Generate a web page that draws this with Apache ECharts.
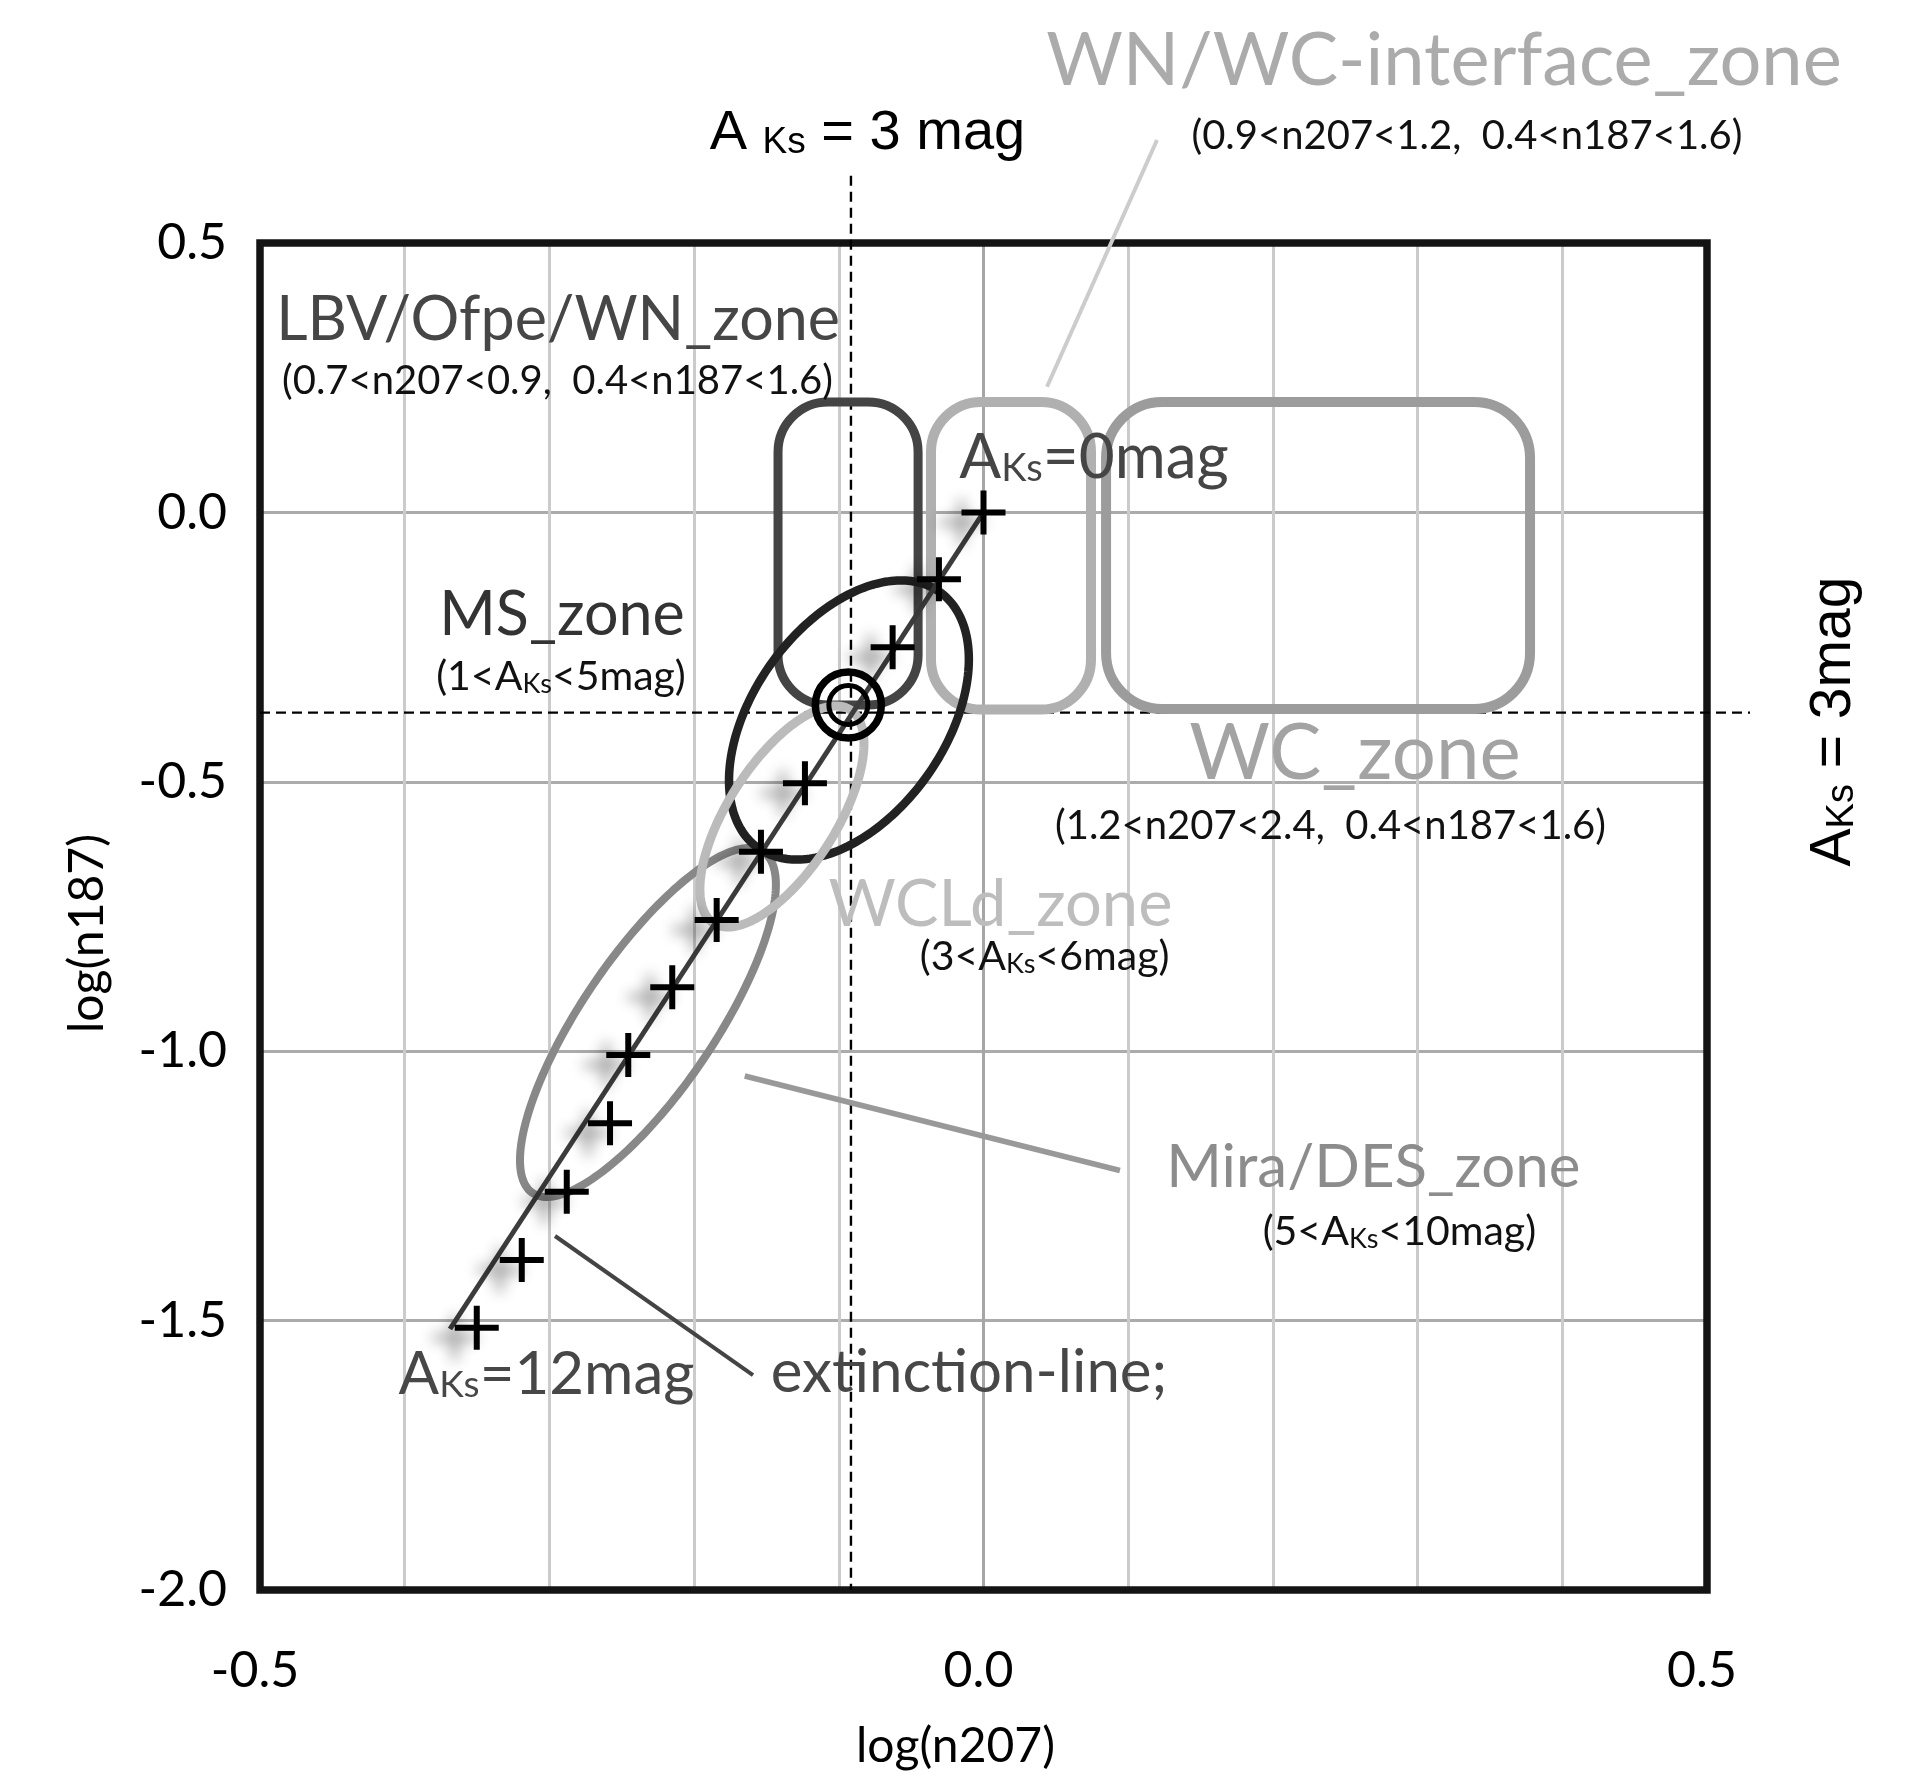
<!DOCTYPE html>
<html><head><meta charset="utf-8">
<script src="https://cdn.jsdelivr.net/npm/echarts/dist/echarts.min.js"></script>
<style>html,body{margin:0;padding:0;background:#fff}#c{width:1906px;height:1778px}</style>
</head><body><div id="c"></div>
<script>
// ---------------- data ----------------
const xRange = [-0.5, 0.5];
const yRange = [-2.0, 0.5];
const xTickLabels = [-0.5, 0.0, 0.5];
const yTickLabels = [0.5, 0.0, -0.5, -1.0, -1.5, -2.0];

// extinction line end points
const extLineX = [0.0, -0.3687];
const extLineY = [0.0, -1.5156];
// A_Ks markers (mag) along the extinction line
const markAKs = [0, 1, 2, 4, 5, 6, 7, 8, 9, 10, 11, 12];
const markX = [0.0, -0.0308, -0.0628, -0.1234, -0.1538, -0.1844, -0.2151, -0.2455, -0.2581, -0.2880, -0.3191, -0.3502];
const markY = [0.0, -0.1243, -0.2504, -0.5028, -0.6297, -0.7565, -0.8814, -1.0071, -1.1338, -1.2607, -1.3875, -1.5132];
// A_Ks = 3 mag point
const ref3 = [-0.0934, -0.3575];
// dashed reference lines (A_Ks = 3 mag)
const dashX = -0.0916;
const dashY = -0.3717;
const dashVExtent = [0.625, -2.0];
const dashHExtent = [-0.5, 0.5297];

// zone boxes [x1, y1, x2, y2]
const lbvBox = [-0.1420, 0.2049, -0.0452, -0.3575];
const wnwcBox = [-0.0363, 0.2049, 0.0743, -0.3660];
const wcBox = [0.0847, 0.2049, 0.3777, -0.3650];
// zone ellipses: [centre, end of major semi-axis, end of minor semi-axis]
const msEllipse = [[-0.0930, -0.3853], [-0.0303, -0.1476], [-0.0388, -0.4883]];
const wcldEllipse = [[-0.1393, -0.5644], [-0.0921, -0.3664], [-0.1079, -0.6182]];
const miraEllipse = [[-0.2319, -0.9467], [-0.1521, -0.6303], [-0.1938, -1.0160]];
// leader lines
const wnwcLeader = [[0.1199, 0.6912], [0.0439, 0.2333]];
const miraLeader = [[-0.1650, -1.0460], [0.0943, -1.2214]];
const extLeader = [[-0.2961, -1.3430], [-0.1593, -1.6010]];

// text annotations
const titleTexts = ['LBV/Ofpe/WN_zone', 'MS_zone', 'A{s|Ks}=0mag', 'WN/WC-interface_zone', 'WC_zone', 'WCLd_zone', 'Mira/DES_zone', 'A{s|Ks}=12mag', 'extinction-line;'];
const titleX = [-0.2940, -0.2913, 0.0764, 0.3182, 0.2567, 0.0117, 0.2694, -0.3020, -0.0100];
const titleY = [0.3649, -0.1823, 0.1110, 0.8470, -0.4386, -0.7194, -1.2071, -1.5904, -1.5880];
const rangeTexts = ['(0.7<n207<0.9,  0.4<n187<1.6)', '(1<A{s|Ks}<5mag)', '(0.9<n207<1.2,  0.4<n187<1.6)', '(1.2<n207<2.4,  0.4<n187<1.6)', '(3<A{s|Ks}<6mag)', '(5<A{s|Ks}<10mag)'];
const rangeX = [-0.2944, -0.2920, 0.3341, 0.2398, 0.0422, 0.2874];
const rangeY = [0.2494, -0.2999, 0.7036, -0.5761, -0.8196, -1.3299];
const topNote = 'A {s|Ks} = 3 mag';
const topNotePos = [-0.0802, 0.7023];
const sideNote = 'A{s|Ks} = 3mag';
const sideNotePos = [0.5878, -0.3881];

// ---------------- styles ----------------
const titleSizes = [61, 61, 62, 74, 78, 65, 60, 60, 60];
const titleColors = ['#464646', '#333333', '#454545', '#ababab', '#a3a3a3', '#bdbdbd', '#8c8c8c', '#474747', '#474747'];
const rangeSizes = [40, 41, 40, 40, 41, 41];
const GILL = 'Lato, "Open Sans", sans-serif';
const ARIAL = '"Liberation Sans", Arial, sans-serif';

function subRich(F, ratio, k, color, family) {
  const f = Math.round(F * ratio);
  const shift = k * (F - f) + 2;
  return { s: { fontSize: f, fontFamily: family, fill: color, padding: [Math.round(2 * shift), 0, 0, 0] } };
}

function textEl(api, text, pos, F, color, family, k, ratio, dy, rot) {
  const p = api.coord(pos);
  return {
    type: 'text', x: p[0], y: p[1] + dy, rotation: rot || 0, z2: 50,
    style: {
      text: text, fontSize: F, fontFamily: family, fill: color,
      align: 'center', verticalAlign: 'middle',
      rich: subRich(F, ratio, k, color, family)
    }
  };
}

function lineEl(api, a, b, color, w, dash) {
  const p = api.coord(a), q = api.coord(b);
  return { type: 'line', shape: { x1: p[0], y1: p[1], x2: q[0], y2: q[1] },
    style: { stroke: color, lineWidth: w, lineDash: dash || null, fill: null } };
}

function boxEl(api, b, color, w, r) {
  const p = api.coord([b[0], b[1]]), q = api.coord([b[2], b[3]]);
  return { type: 'rect', shape: { x: p[0], y: p[1], width: q[0] - p[0], height: q[1] - p[1], r: r },
    style: { fill: 'none', stroke: color, lineWidth: w } };
}

function ellipseEl(api, e, color, w) {
  const c = api.coord(e[0]), m = api.coord(e[1]), n = api.coord(e[2]);
  const ux = m[0] - c[0], uy = m[1] - c[1], vx = n[0] - c[0], vy = n[1] - c[1];
  const pts = [];
  for (let i = 0; i < 240; i++) {
    const t = i / 240 * Math.PI * 2;
    pts.push([c[0] + ux * Math.cos(t) + vx * Math.sin(t), c[1] + uy * Math.cos(t) + vy * Math.sin(t)]);
  }
  return { type: 'polygon', shape: { points: pts }, style: { fill: 'none', stroke: color, lineWidth: w } };
}

function renderZones(params, api) {
  const ch = [];
  // plot frame
  ch.push(boxEl(api, [xRange[0], yRange[1], xRange[1], yRange[0]], '#141414', 7.5, 0));
  ch.push(lineEl(api, [dashX, dashVExtent[0]], [dashX, dashVExtent[1]], '#000', 2.4, [10, 6]));
  ch.push(lineEl(api, [dashHExtent[0], dashY], [dashHExtent[1], dashY], '#000', 2.4, [10, 6]));
  ch.push(boxEl(api, wcBox, '#9c9c9c', 10, 56));
  ch.push(boxEl(api, wnwcBox, '#b0b0b0', 10, 50));
  ch.push(boxEl(api, lbvBox, '#444444', 9, 50));
  ch.push(ellipseEl(api, miraEllipse, '#888888', 8));
  ch.push(ellipseEl(api, msEllipse, '#222222', 8.5));
  ch.push(ellipseEl(api, wcldEllipse, '#bbbbbb', 9));
  ch.push(lineEl(api, wnwcLeader[0], wnwcLeader[1], '#cccccc', 4));
  ch.push(lineEl(api, miraLeader[0], miraLeader[1], '#999999', 5.5));
  ch.push(lineEl(api, extLeader[0], extLeader[1], '#444444', 4));
  return { type: 'group', children: ch };
}

function renderTexts(params, api) {
  const ch = [];
  titleTexts.forEach((t, i) => ch.push(textEl(api, t, [titleX[i], titleY[i]], titleSizes[i], titleColors[i], GILL, 0.387, 0.62, 5)));
  rangeTexts.forEach((t, i) => ch.push(textEl(api, t, [rangeX[i], rangeY[i]], rangeSizes[i], '#111111', GILL, 0.387, 0.66, 3)));
  ch.push(textEl(api, topNote, topNotePos, 56, '#000000', ARIAL, 0.3465, 0.66, 0));
  ch.push(textEl(api, sideNote, sideNotePos, 57, '#000000', ARIAL, 0.3465, 0.66, 0, Math.PI / 2));
  return { type: 'group', children: ch };
}

const xSplitColors = [];
for (let v = xRange[0]; v <= xRange[1] + 1e-9; v += 0.1) xSplitColors.push(Math.abs(v) < 1e-9 ? '#a6a6a6' : '#cbcbcb');

const isTick = (v, list) => list.some(t => Math.abs(t - v) < 1e-6);

const chart = echarts.init(document.getElementById('c'));
chart.setOption({
  animation: false,
  backgroundColor: '#ffffff',
  grid: { left: 260, top: 243, width: 1447, height: 1347, show: false, containLabel: false, outerBoundsMode: 'none' },
  xAxis: {
    type: 'value', min: xRange[0], max: xRange[1], interval: 0.1,
    name: 'log(n207)', nameLocation: 'middle', nameGap: 133,
    nameTextStyle: { fontFamily: GILL, fontSize: 48, color: '#000', padding: [0, 56, 0, 0] },
    axisLine: { show: false }, axisTick: { show: false },
    axisLabel: { margin: 56, fontFamily: GILL, fontSize: 50, color: '#000', padding: [0, 10, 0, 0],
      formatter: v => isTick(v, xTickLabels) ? v.toFixed(1) : '' },
    splitLine: { show: true, lineStyle: { color: xSplitColors, width: 3 } }
  },
  yAxis: {
    type: 'value', min: yRange[0], max: yRange[1], interval: 0.5,
    name: 'log(n187)', nameLocation: 'middle', nameGap: 148, nameRotate: 90,
    nameTextStyle: { fontFamily: GILL, fontSize: 48, color: '#000', padding: [0, 34, 0, 0] },
    axisLine: { show: false }, axisTick: { show: false },
    axisLabel: { margin: 33, fontFamily: GILL, fontSize: 50, color: '#000',
      formatter: v => isTick(v, yTickLabels) ? v.toFixed(1) : '' },
    splitLine: { show: true, lineStyle: { color: '#ababab', width: 3 } }
  },
  series: [
    { type: 'custom', renderItem: renderZones, data: [[0, 0]], clip: false, z: 2, silent: true },
    { type: 'line', data: extLineX.map((x, i) => [x, extLineY[i]]), symbol: 'none', z: 3,
      lineStyle: { color: '#3c3c3c', width: 5 } },
    { type: 'scatter', data: markX.map((x, i) => [x, markY[i], markAKs[i]]), z: 4,
      symbol: 'path://M0,19H44V25H0Z M19,0H25V44H19Z', symbolSize: 44,
      itemStyle: { color: '#000', opacity: 1, shadowBlur: 14, shadowColor: 'rgba(0,0,0,0.45)', shadowOffsetX: -22, shadowOffsetY: 10 } },
    { type: 'scatter', data: [ref3], z: 5, symbol: 'circle', symbolSize: 66,
      itemStyle: { color: 'rgba(0,0,0,0)', borderColor: '#000', borderWidth: 7.5, opacity: 1 } },
    { type: 'scatter', data: [ref3], z: 5, symbol: 'circle', symbolSize: 39,
      itemStyle: { color: 'rgba(0,0,0,0)', borderColor: '#000', borderWidth: 5, opacity: 1 } },
    { type: 'custom', renderItem: renderTexts, data: [[0, 0]], clip: false, z: 10, silent: true }
  ]
});
</script>
</body></html>
